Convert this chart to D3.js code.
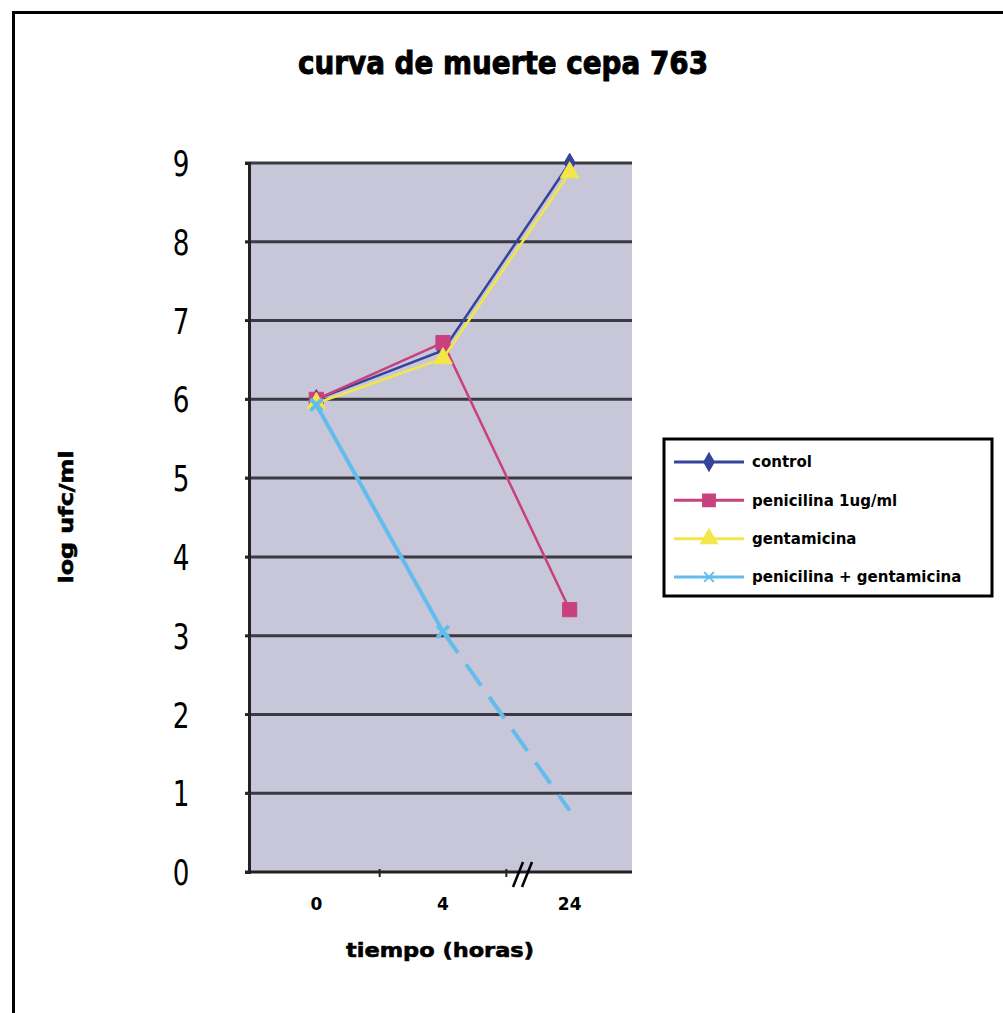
<!DOCTYPE html>
<html>
<head>
<meta charset="utf-8">
<script src="https://cdn.jsdelivr.net/npm/d3@7"></script>
<style>
  body { margin: 0; background: #fff; }
  text { font-family: "DejaVu Sans", sans-serif; }
</style>
</head>
<body>
<svg id="svg0" width="1003" height="1013"></svg>
<script>

var width = 1003;
var height = 1013;

// data
var horas = ['0', '4', '24'];
var yTicks = [0, 1, 2, 3, 4, 5, 6, 7, 8, 9];
var control = [6.0, 6.62, 9.0];
var penicilina = [6.0, 6.72, 3.33];
var gentamicina = [5.95, 6.52, 8.88];
var penGenta = [5.93, 3.05, 0.78];
var nombres = ['control', 'penicilina 1ug/ml', 'gentamicina', 'penicilina + gentamicina'];

// (window.top is read-only, so no "top" here)
var plotLeft = 249, plotRight = 632, plotTop = 163, plotBottom = 872;

var x = d3.scaleBand()
    .domain(horas)
    .range([plotLeft + 4, plotRight + 1]);

var y = d3.scaleLinear()
    .domain([0, 9])
    .range([plotBottom, plotTop]);

var svg0 = d3.select('#svg0');

// outer frame (left + top only)
svg0.append('path')
    .attr('d', 'M13.5,1013 L13.5,12.5 L1003,12.5')
    .attr('fill', 'none')
    .attr('stroke', 'black')
    .attr('stroke-width', 3);

svg0.append('text')
    .attr('x', 503)
    .attr('y', 74)
    .attr('text-anchor', 'middle')
    .attr('font-size', 32)
    .attr('font-weight', 'bold')
    .attr('stroke', 'black')
    .attr('stroke-width', 1)
    .attr('textLength', 410)
    .attr('lengthAdjust', 'spacingAndGlyphs')
    .text('curva de muerte cepa 763');

// plot area
svg0.append('rect')
    .attr('x', plotLeft)
    .attr('y', plotTop)
    .attr('width', plotRight - plotLeft)
    .attr('height', plotBottom - plotTop)
    .attr('fill', '#c7c7d9');

svg0.selectAll('.grid')
    .data(yTicks.filter(function (d) { return d > 0; }))
    .enter()
    .append('line')
    .attr('class', 'grid')
    .attr('x1', plotLeft - 4)
    .attr('x2', plotRight)
    .attr('y1', function (d) { return y(d); })
    .attr('y2', function (d) { return y(d); })
    .attr('stroke', '#3a3a42')
    .attr('stroke-width', 3);

// y axis
var yAxis = svg0.append('g')
    .attr('transform', 'translate(' + plotLeft + ',0)')
    .call(d3.axisLeft(y).tickValues(yTicks).tickSize(4).tickPadding(0));
yAxis.select('.domain').attr('stroke', '#222').attr('stroke-width', 3);
yAxis.selectAll('.tick line').attr('stroke', '#222').attr('stroke-width', 2);
yAxis.selectAll('.tick text')
    .attr('x', 0)
    .attr('text-anchor', 'middle')
    .attr('font-size', 35)
    .attr('font-family', '"Liberation Sans Narrow", "DejaVu Sans Condensed", sans-serif')
    .attr('transform', 'translate(-68,0) scale(0.75,1)')
    .attr('dy', '0.36em')
    .attr('fill', 'black');

// x axis
var xAxis = svg0.append('g')
    .attr('transform', 'translate(0,' + plotBottom + ')')
    .call(d3.axisBottom(x).tickSize(0).tickPadding(26));
xAxis.select('.domain')
    .attr('d', 'M' + (plotLeft - 4) + ',0H' + plotRight)
    .attr('stroke', '#222').attr('stroke-width', 3);
xAxis.selectAll('.tick text')
    .attr('font-size', 17)
    .attr('font-weight', 'bold')
    .attr('fill', 'black');

// band boundary ticks
svg0.selectAll('.xtick')
    .data(horas.slice(1))
    .enter()
    .append('line')
    .attr('class', 'xtick')
    .attr('x1', function (d) { return x(d); })
    .attr('x2', function (d) { return x(d); })
    .attr('y1', plotBottom - 3)
    .attr('y2', plotBottom + 5)
    .attr('stroke', '#222')
    .attr('stroke-width', 2);

// axis break //
svg0.selectAll('.brk')
    .data([0, 9])
    .enter()
    .append('line')
    .attr('class', 'brk')
    .attr('x1', function (d) { return 513 + d; })
    .attr('x2', function (d) { return 523 + d; })
    .attr('y1', plotBottom + 15)
    .attr('y2', plotBottom - 10)
    .attr('stroke', 'black')
    .attr('stroke-width', 2.5);

// axis titles
svg0.append('text')
    .attr('x', 440)
    .attr('y', 957)
    .attr('text-anchor', 'middle')
    .attr('font-size', 20)
    .attr('font-weight', 'bold')
    .attr('stroke', 'black')
    .attr('stroke-width', 0.6)
    .attr('textLength', 188)
    .attr('lengthAdjust', 'spacingAndGlyphs')
    .text('tiempo (horas)');

svg0.append('text')
    .attr('transform', 'translate(73,517) rotate(-90)')
    .attr('text-anchor', 'middle')
    .attr('font-size', 20)
    .attr('font-weight', 'bold')
    .attr('stroke', 'black')
    .attr('stroke-width', 0.6)
    .attr('textLength', 133)
    .attr('lengthAdjust', 'spacingAndGlyphs')
    .text('log ufc/ml');

// series
var series = [
    {name: nombres[0], values: control, color: '#34449a', symbol: d3.symbolDiamond, size: 110},
    {name: nombres[1], values: penicilina, color: '#c8407e', symbol: d3.symbolSquare, size: 200},
    {name: nombres[2], values: gentamicina, color: '#f2e648', symbol: d3.symbolTriangle, size: 150},
    {name: nombres[3], values: penGenta, color: '#62bdec', symbol: d3.symbolX, size: 90}
];

var line = d3.line()
    .x(function (d) { return x(d.h) + x.bandwidth() / 2; })
    .y(function (d) { return y(d.v); });

series.forEach(function (s, i) {
    var pts = horas.map(function (h, j) { return {h: h, v: s.values[j]}; });
    var g = svg0.append('g');
    if (i === 3) {
        g.append('path')
            .attr('d', line(pts.slice(0, 2)))
            .attr('fill', 'none')
            .attr('stroke', s.color)
            .attr('stroke-width', 4);
        g.append('path')
            .attr('d', line(pts.slice(1)))
            .attr('fill', 'none')
            .attr('stroke', s.color)
            .attr('stroke-width', 4)
            .attr('stroke-dasharray', '26,14');
    } else {
        g.append('path')
            .attr('d', line(pts))
            .attr('fill', 'none')
            .attr('stroke', s.color)
            .attr('stroke-width', 2.5);
    }
    g.selectAll('path.mark')
        .data(i === 3 ? pts.slice(0, 2) : pts)
        .enter()
        .append('path')
        .attr('class', 'mark')
        .attr('d', d3.symbol().type(s.symbol).size(s.size))
        .attr('transform', function (d) {
            return 'translate(' + (x(d.h) + x.bandwidth() / 2) + ',' + y(d.v) + ')';
        })
        .attr('fill', s.color)
        .attr('stroke', s.color)
        .attr('stroke-width', i === 3 ? 4 : 1);
});

// legend
var legend = svg0.append('g');
legend.append('rect')
    .attr('x', 664)
    .attr('y', 439)
    .attr('width', 328)
    .attr('height', 157)
    .attr('fill', 'white')
    .attr('stroke', 'black')
    .attr('stroke-width', 3);

var ly = d3.scalePoint()
    .domain(nombres)
    .range([462, 577]);

series.forEach(function (s) {
    legend.append('line')
        .attr('x1', 674)
        .attr('x2', 744)
        .attr('y1', ly(s.name))
        .attr('y2', ly(s.name))
        .attr('stroke', s.color)
        .attr('stroke-width', 3);
    legend.append('path')
        .attr('d', d3.symbol().type(s.symbol).size(s.size * 0.7))
        .attr('transform', 'translate(709,' + ly(s.name) + ')')
        .attr('fill', s.color)
        .attr('stroke', s.color)
        .attr('stroke-width', 2);
    legend.append('text')
        .attr('x', 752)
        .attr('y', ly(s.name))
        .attr('dy', '0.35em')
        .attr('font-size', 15)
        .attr('font-weight', 'bold')
        .text(s.name);
});

</script>
</body>
</html>
